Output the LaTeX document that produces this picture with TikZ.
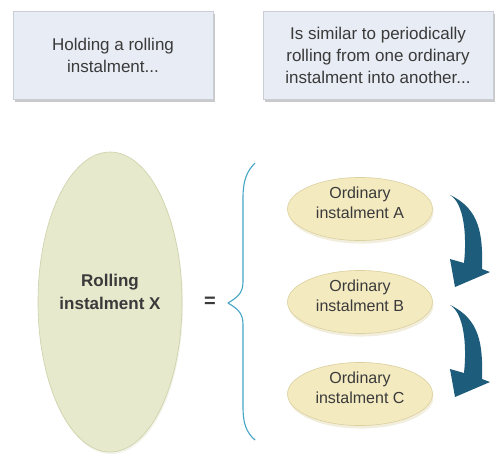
\documentclass[tikz,border=0pt]{standalone}
\usepackage{fontspec}
\setmainfont{Liberation Sans}
\usetikzlibrary{shapes.geometric,shadows}
\definecolor{boxfill}{HTML}{E8ECF4}
\definecolor{boxline}{HTML}{C9CDD6}
\definecolor{bigfill}{HTML}{E6E9CC}
\definecolor{bigline}{HTML}{CDD1A8}
\definecolor{smallfill}{HTML}{F3EAC0}
\definecolor{smallline}{HTML}{DCD09E}
\definecolor{txt}{HTML}{3A3A3A}
\definecolor{arrowblue}{HTML}{1D5C7A}
\definecolor{bracecol}{HTML}{45A5C5}
\tikzset{
  infobox/.style={draw=boxline, fill=boxfill, line width=0.8pt, align=center,
    text=txt, font=\fontsize{17}{22}\selectfont, inner sep=0pt,
    drop shadow={shadow xshift=2pt, shadow yshift=-3pt, opacity=0.35, fill=black!60}},
  bigell/.style={ellipse, draw=bigline, fill=bigfill, line width=0.6pt, align=center,
    text=txt, font=\bfseries\fontsize{17}{23}\selectfont, inner sep=0pt,
    minimum width=144pt, minimum height=300pt, text depth=20pt,
    drop shadow={shadow xshift=1pt, shadow yshift=-2pt, opacity=0.25, fill=bigline}},
  smallell/.style={ellipse, draw=smallline, fill=smallfill, line width=0.6pt, align=center,
    text=txt, font=\fontsize{16}{20}\selectfont, inner sep=0pt,
    minimum width=145pt, minimum height=58pt, text depth=13pt,
    drop shadow={shadow xshift=1pt, shadow yshift=-3pt, opacity=0.35, fill=smallline}},
  pics/rollarrow/.style={code={
    \fill[arrowblue] (0,0) .. controls (14,8) and (17,40) .. (14,68)
      -- (0,64) -- (5,92) -- (40,77) -- (32,74)
      .. controls (33,40) and (30,14) .. (0,0) -- cycle;}}
}
\begin{document}
\begin{tikzpicture}[x=1pt,y=-1pt]
\useasboundingbox (0,0) rectangle (498,466);
\fill[white] (0,0) rectangle (498,466);
\node[infobox, minimum width=200pt, minimum height=88pt] (b1) at (113,55)
  {Holding a rolling\\instalment...};
\node[infobox, minimum width=230pt, minimum height=88pt] (b2) at (378,55)
  {Is similar to periodically\\rolling from one ordinary\\instalment into another...};
\node[bigell] (x) at (110,302) {Rolling\\instalment X};
\node[text=txt, font=\bfseries\fontsize{20}{20}\selectfont] (eq) at (210,302) {=};
\node[smallell] (a) at (360,209) {Ordinary\\instalment A};
\node[smallell] (b) at (360,302) {Ordinary\\instalment B};
\node[smallell] (c) at (360,394) {Ordinary\\instalment C};
% brace
\coordinate (bt) at (255,163);
\coordinate (btip) at (228,303);
\coordinate (bb) at (255,440);
\draw[bracecol, line width=1.1pt, line join=round]
  (bt) .. controls (246,172) and (243,182) .. (243,198)
  -- (243,282) .. controls (243,294) and (236,298) .. (btip)
  .. controls (236,308) and (243,312) .. (243,324)
  -- (243,407) .. controls (243,423) and (246,432) .. (bb);
% arrows
\pic at (450,195) {rollarrow};
\pic at (450,305) {rollarrow};
\end{tikzpicture}
\end{document}
